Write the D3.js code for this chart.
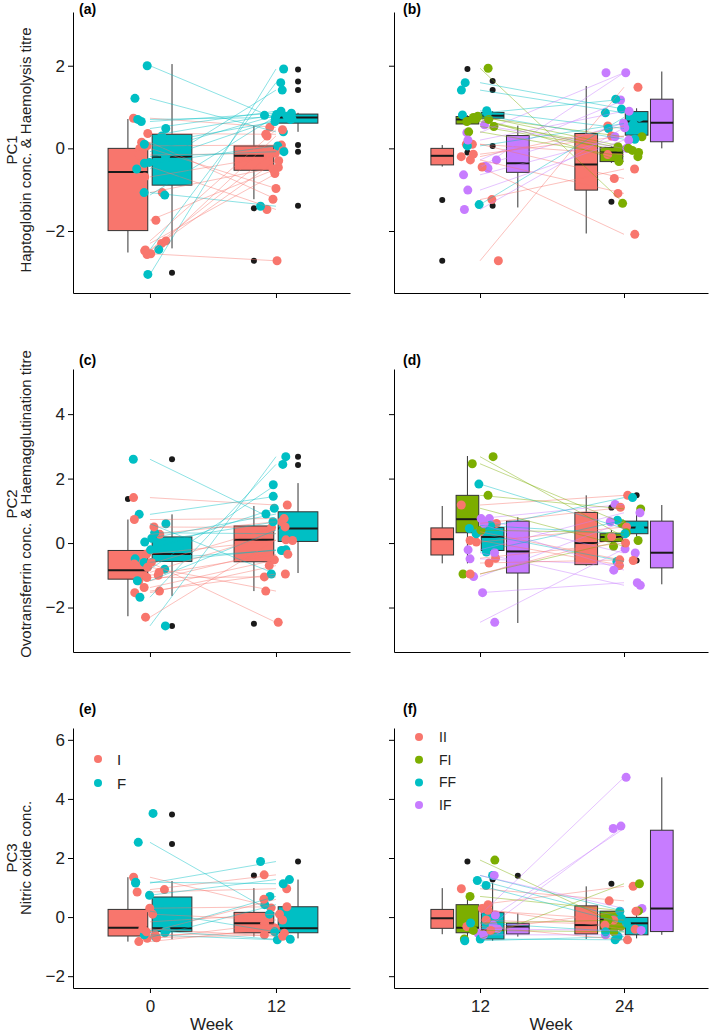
<!DOCTYPE html>
<html>
<head>
<meta charset="utf-8">
<script src="https://cdnjs.cloudflare.com/ajax/libs/d3/7.8.5/d3.min.js"></script>
<style>
body { margin: 0; background: #fff; }
text { font-family: "Liberation Sans", Arial, sans-serif; }
</style>
</head>
<body>
<div id="chart"></div>
<script>
// groups and colours
var groupsTwo = ["I", "F"];
var groupsFour = ["II", "FI", "FF", "IF"];
var colour = {I: "#F8766D", F: "#00BFC4", II: "#F8766D", FI: "#7CAE00", FF: "#00BFC4", IF: "#C77CFF"};

// tick values per row
var ticksRow1 = [-2, 0, 2];
var ticksRow2 = [-2, 0, 2, 4];
var ticksRow3 = [-2, 0, 2, 4, 6];
var weeksLeft = [0, 12];
var weeksRight = [12, 24];

// boxes: week, group, lower whisker, q1, median, q3, upper whisker
var aBoxes = [
  [0, "I", -2.52, -1.99, -0.57, 0.0, 0.71],
  [0, "F", -2.42, -0.89, -0.2, 0.34, 2.04],
  [12, "I", -1.23, -0.53, -0.18, 0.06, 0.54],
  [12, "F", 0.4, 0.61, 0.75, 0.83, 0.86]
];
var aOutliers = [[0, "F", -3.01], [12, "I", -1.45], [12, "I", -2.72], [12, "F", 1.91], [12, "F", 1.62],
  [12, "F", 1.41], [12, "F", 0.08], [12, "F", -0.08], [12, "F", -1.39]];
// individuals: group, value at first week, value at second week
var aPairs = [
  ["I", 0.73, 0.51], ["F", 2.0, 0.72], ["I", 0.36, 0.34], ["F", 1.21, 0.4], ["I", 0.15, -1.23],
  ["F", 0.65, 0.85], ["I", 0.06, 0.08], ["F", 0.48, 0.9], ["I", 0.0, -0.97], ["F", 0.7, 0.75],
  ["I", -0.16, -0.12], ["F", -0.08, 0.8], ["I", -0.44, -1.48], ["F", -0.34, 0.7], ["I", -0.69, -0.18],
  ["F", -0.36, 0.06], ["I", -1.07, -0.46], ["F", -1.07, -1.4], ["I", -1.74, -0.5], ["F", -1.13, 0.78],
  ["I", -2.3, -0.61], ["F", -2.45, 1.59], ["I", -2.24, 0.45], ["F", -3.05, 1.92], ["I", -2.55, -2.72],
  ["F", 0.3, 0.82], ["I", -2.57, 0.3], ["F", 0.1, 0.65], ["I", -2.46, -0.05], ["F", -0.2, -0.08],
  ["I", -2.48, -0.3], ["F", -0.5, 1.41]
];

var bBoxes = [
  [12, "II", -0.44, -0.4, -0.18, 0.0, 0.08],
  [12, "FI", 0.55, 0.59, 0.7, 0.77, 0.8],
  [12, "FF", 0.68, 0.73, 0.79, 0.87, 0.9],
  [12, "IF", -1.43, -0.58, -0.36, 0.31, 0.55],
  [24, "II", -2.06, -1.01, -0.39, 0.36, 1.51],
  [24, "FI", -0.35, -0.32, -0.1, 0.02, 0.05],
  [24, "FF", 0.2, 0.32, 0.65, 0.89, 0.97],
  [24, "IF", 0.0, 0.16, 0.62, 1.19, 1.86]
];
var bOutliers = [[12, "II", -1.25], [12, "II", -2.72], [12, "FI", 1.92], [12, "FI", -0.1], [12, "FF", 1.63],
  [12, "FF", 1.41], [12, "FF", 0.06], [12, "FF", -1.39], [24, "FI", -1.29]];
var bPairs = [
  ["II", -0.2, 0.54], ["FI", 1.94, -1.33], ["FF", 1.59, 0.95], ["IF", 0.57, 0.0],
  ["II", 0.1, -0.15], ["FI", 0.78, 0.04], ["FF", 1.41, 0.86], ["IF", 0.38, 1.83],
  ["II", 0.1, -0.73], ["FI", 0.75, 0.28], ["FF", 0.91, 0.48], ["IF", -0.28, 1.17],
  ["II", -0.28, -1.09], ["FI", 0.72, -0.32], ["FF", 0.85, 1.19], ["IF", -0.43, 0.61],
  ["II", -0.14, 0.3], ["FI", 0.7, -0.1], ["FF", 0.81, 0.22], ["IF", -0.64, 0.28],
  ["II", -1.24, -0.5], ["FI", 0.53, -0.05], ["FF", 0.06, 0.6], ["IF", -0.48, 1.83],
  ["II", -2.72, 1.48], ["FI", 0.4, -0.2], ["FF", -1.36, 0.75], ["IF", -1.01, 0.2],
  ["II", -0.45, -2.08], ["FI", 0.65, 0.0], ["IF", -1.48, 0.5], ["IF", 0.2, 0.9]
];

var cBoxes = [
  [0, "I", -2.27, -1.12, -0.84, -0.23, 0.73],
  [0, "F", -1.64, -0.57, -0.34, 0.19, 0.89],
  [12, "I", -1.49, -0.58, 0.1, 0.53, 1.15],
  [12, "F", -0.93, 0.05, 0.45, 0.97, 1.86]
];
var cOutliers = [[0, "I", 1.37], [0, "F", 2.6], [0, "F", -2.57], [12, "I", -2.5], [12, "F", 2.68], [12, "F", 2.42]];
var cPairs = [
  ["I", 1.41, 1.18], ["F", 2.6, 0.7], ["I", 0.27, 0.66], ["F", 0.89, 1.45], ["I", 0.73, 0.76],
  ["F", 0.32, 0.29], ["I", 0.5, 0.48], ["F", 0.03, 0.66], ["I", -0.34, 0.08], ["F", -0.21, 1.08],
  ["I", -1.17, -0.23], ["F", -0.49, -0.23], ["I", -1.38, -0.52], ["F", -0.6, -0.21], ["I", -1.54, -0.7],
  ["F", -0.81, 1.81], ["I", -1.49, -0.96], ["F", -1.17, 0.4], ["I", -1.07, -1.05], ["F", -1.68, 2.44],
  ["I", -0.91, 0.3], ["F", -2.57, 2.68], ["I", -2.3, 0.1], ["F", 0.6, -0.96], ["I", -0.75, -1.49],
  ["F", 0.15, 0.9], ["I", -0.6, -2.46], ["I", -0.65, 0.5], ["I", -1.0, -0.35]
];

var dBoxes = [
  [12, "II", -0.63, -0.37, 0.12, 0.47, 1.15],
  [12, "FI", -0.63, 0.32, 0.74, 1.48, 2.7],
  [12, "FF", -0.3, -0.23, 0.19, 0.48, 0.55],
  [12, "IF", -2.48, -0.93, -0.26, 0.68, 0.8],
  [24, "II", -0.7, -0.67, 0.0, 0.95, 1.48],
  [24, "FI", -0.1, 0.05, 0.19, 0.29, 0.4],
  [24, "FF", 0.2, 0.29, 0.48, 0.68, 0.9],
  [24, "IF", -1.28, -0.77, -0.3, 0.68, 1.18]
];
var dOutliers = [[24, "FI", 1.1], [24, "FF", 1.48], [24, "FF", -0.54]];
var dPairs = [
  ["II", 1.18, 1.48], ["FI", 2.46, 0.6], ["FF", 1.83, 0.45], ["IF", 0.76, 1.2],
  ["II", 0.61, 1.11], ["FI", 2.68, 0.19], ["FF", 0.45, 1.41], ["IF", 0.76, -0.31],
  ["II", 0.35, -0.54], ["FI", 1.48, 1.06], ["FF", -0.28, 0.71], ["IF", -0.21, 0.94],
  ["II", 0.03, 0.5], ["FI", 1.08, -0.1], ["FF", 0.29, -0.57], ["IF", -0.49, -0.68],
  ["II", 0.08, -0.7], ["FI", 0.4, 0.32], ["FF", 0.55, 0.29], ["IF", -1.04, 0.66],
  ["II", -0.62, -0.52], ["FI", -0.96, 0.08], ["IF", -1.54, -1.23], ["II", -0.96, 0.2],
  ["IF", -2.46, -0.18], ["II", -0.47, 0.0], ["IF", 0.6, -0.84], ["IF", -0.3, -1.31]
];

var eBoxes = [
  [0, "I", -0.83, -0.64, -0.36, 0.26, 1.35],
  [0, "F", -0.75, -0.49, -0.38, 0.68, 1.22],
  [12, "I", -0.66, -0.53, -0.21, 0.16, 0.98],
  [12, "F", -0.72, -0.53, -0.38, 0.35, 1.27]
];
var eOutliers = [[0, "F", 3.47], [0, "F", 2.47], [12, "I", 1.41], [12, "F", 1.88]];
var ePairs = [
  ["I", 1.35, 0.31], ["F", 3.51, null], ["I", 0.93, 1.43], ["F", 2.53, 0.1], ["I", 0.85, 0.96],
  ["F", 1.15, 1.88], ["I", 0.3, 0.35], ["F", 1.18, 1.13], ["I", -0.16, 0.1], ["F", 0.74, 1.27],
  ["I", -0.72, -0.21], ["F", -0.53, 0.7], ["I", -0.83, -0.38], ["F", -0.69, 0.42], ["I", -0.6, -0.55],
  ["F", -0.6, -0.77], ["I", -0.4, -0.65], ["F", -0.45, -0.75], ["I", -0.5, 0.6], ["F", 0.2, -0.5],
  ["I", 0.1, -0.1], ["I", -0.7, -0.6]
];

var fBoxes = [
  [12, "II", -0.58, -0.38, -0.04, 0.26, 0.98],
  [12, "FI", -0.69, -0.53, -0.36, 0.42, 0.72],
  [12, "FF", -0.8, -0.74, -0.44, 0.15, 1.15],
  [12, "IF", -0.66, -0.57, -0.32, -0.21, 0.12],
  [24, "II", -0.74, -0.57, -0.27, 0.38, 1.04],
  [24, "FI", -0.55, -0.41, -0.08, 0.2, 0.2],
  [24, "FF", -0.72, -0.6, -0.21, -0.01, 0.12],
  [24, "IF", -0.6, -0.49, 0.29, 2.94, 4.73]
];
var fOutliers = [[12, "FI", 1.88], [12, "FF", 1.27], [12, "IF", 1.4], [24, "FI", 1.13]];
var fPairs = [
  ["II", 0.96, 0.55], ["FI", 1.93, -0.32], ["FF", 1.41, 0.2], ["IF", 1.41, 0.29],
  ["II", 0.42, 1.04], ["FI", 0.7, 0.21], ["FF", 1.24, -0.04], ["IF", 0.07, 4.73],
  ["II", 0.23, -0.1], ["FI", -0.74, 1.13], ["FF", 1.07, -0.21], ["IF", -0.55, 3.08],
  ["II", 0.29, -0.41], ["FI", -0.2, -0.1], ["FF", -0.8, -0.66], ["IF", -0.27, 3.0],
  ["II", -0.32, -0.77], ["FI", -0.45, -0.5], ["FF", -0.74, -0.77], ["IF", -0.6, -0.6],
  ["II", -0.1, -0.27], ["FF", -0.2, -0.5], ["IF", -0.4, -0.45], ["II", -0.45, 0.2]
];

// layout
var rows = [
  {top: 12, bottom: 293, domain: [-3.5, 3.3], ticks: ticksRow1, tagY: 14, labelMid: 150,
   label: ["PC1", "Haptoglobin conc. & Haemolysis titre"]},
  {top: 369, bottom: 652, domain: [-3.38, 5.4], ticks: ticksRow2, tagY: 365, labelMid: 504,
   label: ["PC2", "Ovotransferrin conc. & Haemagglutination titre"]},
  {top: 728, bottom: 988, domain: [-2.4, 6.4], ticks: ticksRow3, tagY: 714, labelMid: 858,
   label: ["PC3", "Nitric oxide conc."]}
];
var cols = [
  {left: 73, right: 350, domain: [-7.33, 19.05], tagX: 79},
  {left: 394, right: 708, domain: [4.83, 31.0], tagX: 403}
];

var panels = [
  {tag: "(a)", row: 0, col: 0, weeks: weeksLeft, groups: groupsTwo, boxes: aBoxes, outliers: aOutliers, pairs: aPairs},
  {tag: "(b)", row: 0, col: 1, weeks: weeksRight, groups: groupsFour, boxes: bBoxes, outliers: bOutliers, pairs: bPairs},
  {tag: "(c)", row: 1, col: 0, weeks: weeksLeft, groups: groupsTwo, boxes: cBoxes, outliers: cOutliers, pairs: cPairs},
  {tag: "(d)", row: 1, col: 1, weeks: weeksRight, groups: groupsFour, boxes: dBoxes, outliers: dOutliers, pairs: dPairs},
  {tag: "(e)", row: 2, col: 0, weeks: weeksLeft, groups: groupsTwo, boxes: eBoxes, outliers: eOutliers, pairs: ePairs},
  {tag: "(f)", row: 2, col: 1, weeks: weeksRight, groups: groupsFour, boxes: fBoxes, outliers: fOutliers, pairs: fPairs}
];

var dodgeWidth = 8.4;   // in weeks
var jitterWidth = 1.6;  // in weeks

var svg = d3.select("#chart")
  .append("svg")
  .attr("width", 709)
  .attr("height", 1035);

// small seeded generator so the jitter is the same every run
function seeded(seed) {
  return function() {
    seed = (seed * 16807) % 2147483647;
    return (seed - 1) / 2147483646;
  };
}

function minusFormat(d) {
  return d < 0 ? "\u2212" + Math.abs(d) : String(d);
}

panels.forEach(function(p, pi) {
  var row = rows[p.row], col = cols[p.col];
  var x = d3.scaleLinear().domain(col.domain).range([col.left, col.right]);
  var y = d3.scaleLinear().domain(row.domain).range([row.bottom, row.top]);
  var g = svg.append("g");
  var n = p.groups.length;
  var slot = dodgeWidth / n;
  var bw = slot * 0.9;
  var off = function(grp) { return (p.groups.indexOf(grp) - (n - 1) / 2) * slot; };
  var rand = seeded(1234 + pi * 97);

  // boxplots
  var box = g.selectAll(".box").data(p.boxes).enter().append("g").attr("class", "box");
  box.append("line")
    .attr("x1", d => x(d[0] + off(d[1]))).attr("x2", d => x(d[0] + off(d[1])))
    .attr("y1", d => y(d[5])).attr("y2", d => y(d[6]))
    .attr("stroke", "#333").attr("stroke-width", 1);
  box.append("line")
    .attr("x1", d => x(d[0] + off(d[1]))).attr("x2", d => x(d[0] + off(d[1])))
    .attr("y1", d => y(d[3])).attr("y2", d => y(d[2]))
    .attr("stroke", "#333").attr("stroke-width", 1);
  box.append("rect")
    .attr("x", d => x(d[0] + off(d[1]) - bw / 2))
    .attr("width", d => x(d[0] + off(d[1]) + bw / 2) - x(d[0] + off(d[1]) - bw / 2))
    .attr("y", d => y(d[5]))
    .attr("height", d => y(d[3]) - y(d[5]))
    .attr("fill", d => colour[d[1]])
    .attr("stroke", "#333").attr("stroke-width", 1);
  box.append("line")
    .attr("x1", d => x(d[0] + off(d[1]) - bw / 2)).attr("x2", d => x(d[0] + off(d[1]) + bw / 2))
    .attr("y1", d => y(d[4])).attr("y2", d => y(d[4]))
    .attr("stroke", "#1a1a1a").attr("stroke-width", 2);

  g.selectAll(".outlier").data(p.outliers).enter().append("circle")
    .attr("cx", d => x(d[0] + off(d[1])))
    .attr("cy", d => y(d[2]))
    .attr("r", 3)
    .attr("fill", "#1a1a1a");

  // jittered points, both weeks
  var pts = [];
  p.pairs.forEach(function(d) {
    pts.push({grp: d[0], week: p.weeks[0], v: d[1], j: (rand() - 0.5) * 2 * jitterWidth});
    if (d[2] !== null) pts.push({grp: d[0], week: p.weeks[1], v: d[2], j: (rand() - 0.5) * 2 * jitterWidth});
  });
  g.selectAll(".pt").data(pts).enter().append("circle")
    .attr("cx", d => x(d.week + d.j))
    .attr("cy", d => y(d.v))
    .attr("r", 4.5)
    .attr("fill", d => colour[d.grp]);

  // individual lines
  g.selectAll(".ind").data(p.pairs.filter(d => d[2] !== null)).enter().append("line")
    .attr("x1", x(p.weeks[0])).attr("x2", x(p.weeks[1]))
    .attr("y1", d => y(d[1])).attr("y2", d => y(d[2]))
    .attr("stroke", d => colour[d[0]])
    .attr("stroke-width", 0.6)
    .attr("opacity", 0.75);

  // axes
  var yAxis = d3.axisLeft(y).tickValues(row.ticks).tickSize(5).tickSizeOuter(0).tickPadding(3)
    .tickFormat(p.col === 0 ? minusFormat : "");
  var ya = g.append("g").attr("transform", "translate(" + col.left + ",0)").call(yAxis);
  var xAxis = d3.axisBottom(x).tickValues(p.weeks).tickSize(5).tickSizeOuter(0).tickPadding(7)
    .tickFormat(p.row === 2 ? d3.format("d") : "");
  var xa = g.append("g").attr("transform", "translate(0," + row.bottom + ")").call(xAxis);
  [ya, xa].forEach(function(a) {
    a.selectAll("path,line").attr("stroke", "#000");
    a.selectAll("text").attr("fill", "#222").style("font-size", "17px")
      .style("font-family", '"Liberation Sans", Arial, sans-serif');
  });

  g.append("text")
    .attr("x", col.tagX).attr("y", row.tagY)
    .style("font-size", "14px").style("font-weight", "bold")
    .text(p.tag);

  if (p.col === 0) {
    g.append("text")
      .attr("transform", "translate(17," + row.labelMid + ") rotate(-90)")
      .attr("text-anchor", "middle").style("font-size", "15px").attr("fill", "#222")
      .text(row.label[0]);
    g.append("text")
      .attr("transform", "translate(31," + row.labelMid + ") rotate(-90)")
      .attr("text-anchor", "middle").style("font-size", "15px").attr("fill", "#222")
      .text(row.label[1]);
  }
  if (p.row === 2) {
    g.append("text")
      .attr("x", (col.left + col.right) / 2).attr("y", 1030)
      .attr("text-anchor", "middle").style("font-size", "17px").attr("fill", "#222")
      .text("Week");
  }
});

// legends
var legendE = svg.append("g").attr("transform", "translate(98,759)");
legendE.selectAll("circle").data(groupsTwo).enter().append("circle")
  .attr("cx", 0).attr("cy", (d, i) => i * 24).attr("r", 4).attr("fill", d => colour[d]);
legendE.selectAll("text").data(groupsTwo).enter().append("text")
  .attr("x", 19).attr("y", (d, i) => i * 24 + 5.5)
  .style("font-size", "15px").attr("fill", "#222").text(d => d);

var legendF = svg.append("g").attr("transform", "translate(419,737)");
legendF.selectAll("circle").data(groupsFour).enter().append("circle")
  .attr("cx", 0).attr("cy", (d, i) => i * 22.7).attr("r", 4).attr("fill", d => colour[d]);
legendF.selectAll("text").data(groupsFour).enter().append("text")
  .attr("x", 20).attr("y", (d, i) => i * 22.7 + 5)
  .style("font-size", "14px").attr("fill", "#222").text(d => d);
</script>
</body>
</html>
